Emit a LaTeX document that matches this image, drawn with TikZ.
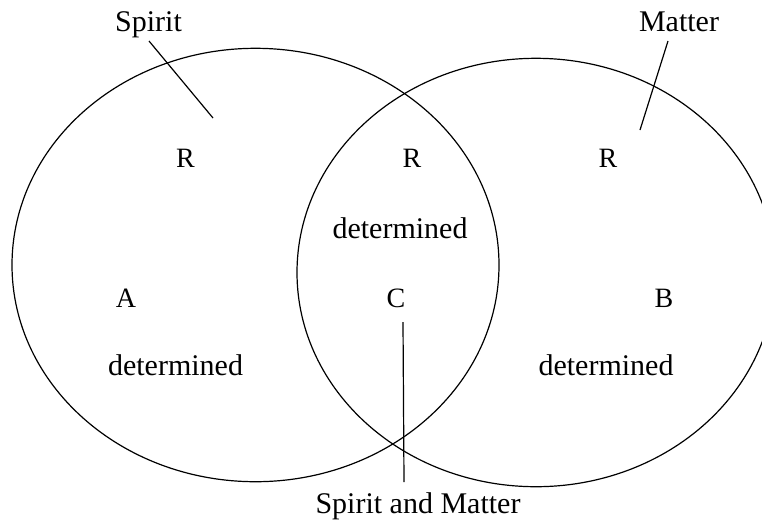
\documentclass[tikz,border=0pt]{standalone}
\usepackage{fontspec}
\setmainfont{Liberation Serif}
\begin{document}
\begin{tikzpicture}[x=1pt,y=-1pt,
  word/.style={anchor=base,inner sep=0pt,font=\fontsize{30}{36}\selectfont},
  letter/.style={anchor=base,inner sep=0pt,font=\fontsize{28}{34}\selectfont},
  ring/.style={draw=black,line width=1.2pt},
  leader/.style={draw=black,line width=1.2pt}]
\useasboundingbox (0,0) rectangle (762,523);
\clip (0,0) rectangle (762,523);
% circles
\draw[ring] (255.5,265) ellipse [x radius=243.5, y radius=216.7];
\draw[ring] (536,272.5) ellipse [x radius=239, y radius=214.2];
% labels
\node[word] (spirit) at (148.5,31) {Spirit};
\node[word] (matter) at (679,31) {Matter};
\node[letter] (rl) at (185.5,167) {R};
\node[letter] (rm) at (412,167) {R};
\node[letter] (rr) at (608,167) {R};
\node[word] (dm) at (400,238) {determined};
\node[letter] (a) at (126,307) {A};
\node[letter] (c) at (396,307) {C};
\node[letter] (b) at (664,307) {B};
\node[word] (dl) at (175.5,375) {determined};
\node[word] (dr) at (606,375) {determined};
\node[word] (sm) at (418,513) {Spirit and Matter};
% leader lines
\coordinate (s1) at (149,41);
\coordinate (s2) at (213,118);
\coordinate (m1) at (668,41);
\coordinate (m2) at (640,130);
\coordinate (c1) at (403,322);
\coordinate (c2) at (404,482);
\draw[leader] (s1) -- (s2);
\draw[leader] (m1) -- (m2);
\draw[leader] (c1) -- (c2);
\end{tikzpicture}
\end{document}
